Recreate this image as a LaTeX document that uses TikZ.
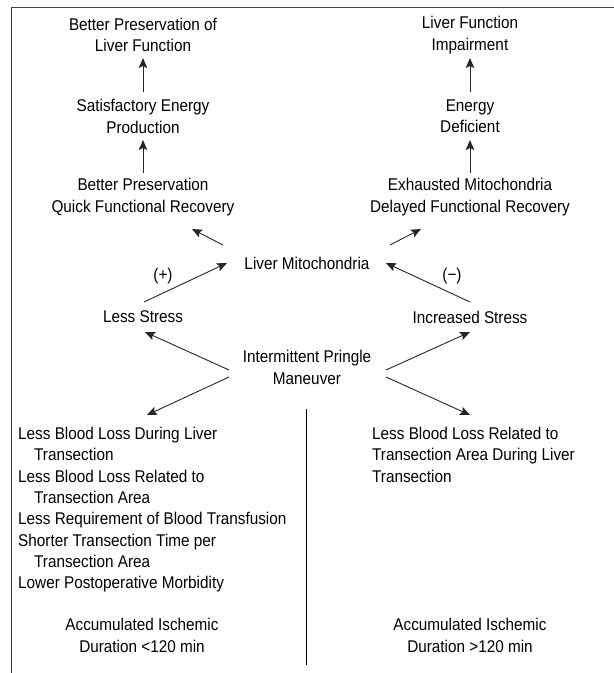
\documentclass[tikz,border=0pt]{standalone}
\usepackage{fontspec}
\setmainfont{Liberation Sans}[FakeStretch=0.9]
\usetikzlibrary{arrows.meta,calc}

\begin{document}
\begin{tikzpicture}[x=1pt,y=-1pt,
        every node/.style={font=\fontsize{17}{21.3}\selectfont,align=center,inner sep=0pt},
        arr/.style={draw=black!85,line width=0.9pt,-{Stealth[length=10pt,width=8.5pt,inset=2pt]}},
        frame/.style={draw=black!75,line width=1.5pt},
        divider/.style={draw=black,line width=1pt}]
    \useasboundingbox (0,0) rectangle (614,673);
    \draw[frame] (614,7.5) -- (11.5,7.5) -- (11.5,673);

    \node (bpl) at (143,35) {Better Preservation of\\Liver Function};
    \node (sep) at (143,116.5) {Satisfactory Energy\\Production};
    \node (bpq) at (143,197) {Better Preservation\\Quick Functional Recovery};
    \node (lfi) at (470,35) {Liver Function\\Impairment};
    \node (ed) at (470,116.5) {Energy\\Deficient};
    \node (emd) at (470,197) {Exhausted Mitochondria\\Delayed Functional Recovery};
    \node (lm) at (307,263) {Liver Mitochondria};
    \node (plus) at (163,276) {(+)};
    \node (minus) at (452,276) {(−)};
    \node (ls) at (143,317) {Less Stress};
    \node (is) at (470,317) {Increased Stress};
    \node (ipm) at (307,367.5) {Intermittent Pringle\\Maneuver};
    \node[anchor=north west,align=left] (ll) at (18,427) {Less Blood Loss During Liver\\
        \hspace*{16pt}Transection\\
        Less Blood Loss Related to\\
        \hspace*{16pt}Transection Area\\
        Less Requirement of Blood Transfusion\\
        Shorter Transection Time per\\
        \hspace*{16pt}Transection Area\\
        Lower Postoperative Morbidity};
    \node[anchor=north west,align=left] (rl) at (372,427) {Less Blood Loss Related to\\
        Transection Area During Liver\\
        Transection};
    \node (acl) at (142,635.5) {Accumulated Ischemic\\Duration <120 min};
    \node (acr) at (470,635.5) {Accumulated Ischemic\\Duration >120 min};

    \draw[arr] ($(sep)+(0,-24.5)$) -- ($(bpl)+(0,23)$);
    \draw[arr] ($(bpq)+(0,-24)$) -- ($(sep)+(0,23.5)$);
    \draw[arr] ($(ed)+(0,-24.5)$) -- ($(lfi)+(0,23)$);
    \draw[arr] ($(emd)+(0,-24)$) -- ($(ed)+(0,23.5)$);

    \draw[arr] ($(lm)+(-84,-18)$) -- ($(bpq)+(49,32)$);
    \draw[arr] ($(lm)+(83,-18)$) -- ($(emd)+(-49,32)$);
    \draw[arr] ($(ls)+(1,-15)$) -- ($(lm)+(-80,0)$);
    \draw[arr] ($(is)+(0,-15)$) -- ($(lm)+(79,0)$);

    \draw[arr] ($(ipm)+(-78,2.5)$) -- ($(ls)+(2,15)$);
    \draw[arr] ($(ipm)+(79,2.5)$) -- ($(is)+(0,15)$);
    \draw[arr] ($(ipm)+(-78,9.5)$) -- ($(ll.north west)+(129,-12)$);
    \draw[arr] ($(ipm)+(79,9.5)$) -- ($(rl.north west)+(98,-12)$);

    \draw[divider] (306,409) -- (306,665);
\end{tikzpicture}
\end{document}
